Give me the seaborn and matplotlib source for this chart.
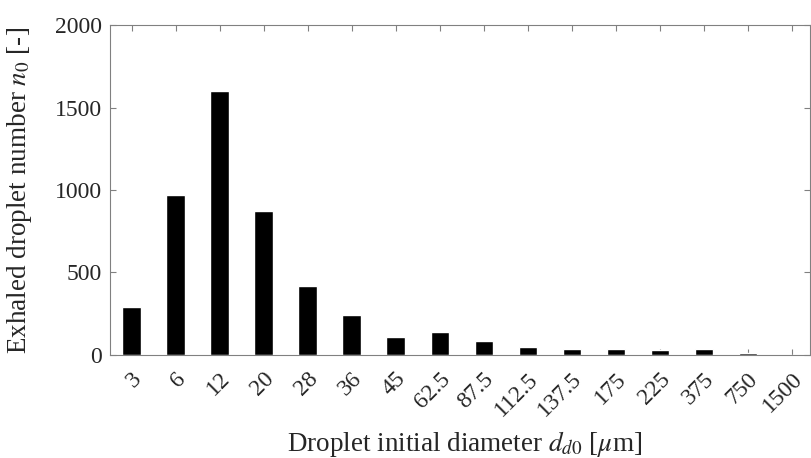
import matplotlib
matplotlib.use("Agg")
import matplotlib.pyplot as plt
import matplotlib.transforms as mtransforms
import seaborn as sns
import pandas as pd

# Data
diameters = ["3", "6", "12", "20", "28", "36", "45", "62.5", "87.5",
             "112.5", "137.5", "175", "225", "375", "750", "1500"]
counts = [290, 970, 1600, 870, 420, 240, 110, 140, 87,
          48, 39, 39, 28, 35, 14, 3]

data = pd.DataFrame({"diameter": diameters, "count": counts})

sns.set_style("white")
plt.rcParams["font.family"] = ["Liberation Serif", "DejaVu Serif"]
plt.rcParams["mathtext.fontset"] = "stix"

fig = plt.figure(figsize=(8.11, 4.58), dpi=100)
ax = fig.add_axes([0.1356, 0.2249, 0.8632, 0.7205])

sns.barplot(data=data, x="diameter", y="count", order=diameters,
            color="black", width=0.42, saturation=1, ax=ax)

ax.set_xlim(-0.49, 15.41)
ax.set_ylim(0, 2000)
ax.set_yticks([0, 500, 1000, 1500, 2000])

# Box with inward ticks on every side
for side in ["left", "right", "top", "bottom"]:
    ax.spines[side].set_visible(True)
    ax.spines[side].set_color("#808080")
    ax.spines[side].set_linewidth(0.8)
ax.tick_params(axis="both", which="both", direction="in", length=4,
               width=0.8, color="#808080", labelcolor="#262626",
               labelsize=17, top=True, right=True, bottom=True, left=True)
ax.tick_params(axis="y", pad=6)
ax.tick_params(axis="x", pad=15)

# rotated labels, right end anchored a little right of the tick
shift = mtransforms.ScaledTranslation(5 / 72, 0, fig.dpi_scale_trans)
for lbl in ax.get_xticklabels():
    lbl.set_rotation(45)
    lbl.set_ha("right")
    lbl.set_va("center")
    lbl.set_rotation_mode("anchor")
    lbl.set_transform(lbl.get_transform() + shift)

ax.set_xlabel(r"Droplet initial diameter $d_{\mathit{d0}}$ [$\mu$m]",
              fontsize=19.5, color="#262626")
ax.set_ylabel(r"Exhaled droplet number $n_{\mathit{0}}$ [-]",
              fontsize=19.5, color="#262626")
ax.xaxis.set_label_coords(0.506, -0.225)
ax.yaxis.set_label_coords(-0.109, 0.5)

fig.savefig("out.png", dpi=100)
